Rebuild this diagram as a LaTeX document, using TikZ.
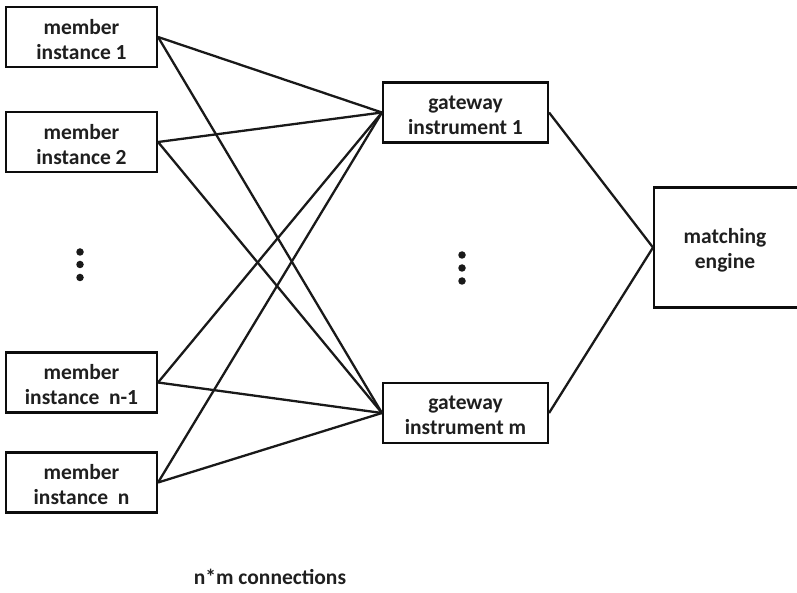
\documentclass[tikz,border=0pt]{standalone}
\usepackage{fontspec}
\setmainfont{Carlito}
\begin{document}
\begin{tikzpicture}[x=1pt,y=-1pt,
  box/.style={draw=black!95,line width=2.1pt,fill=white,inner sep=0pt},
  boxtext/.style={align=center,inner sep=0pt,
    font=\fontsize{21.5}{25}\selectfont\bfseries,text=black!88},
  link/.style={line width=2.3pt,black!90},
  dotmark/.style={circle,fill=black!90,inner sep=0pt,minimum size=7.5pt}]
\useasboundingbox (0,0) rectangle (797,593);
\clip (0,0) rectangle (797,593);
% member instances
\node[box,minimum width=151pt,minimum height=60pt] (m1) at (81.5,37) {};
\node[box,minimum width=151pt,minimum height=60pt] (m2) at (81.5,142) {};
\node[box,minimum width=151pt,minimum height=60pt] (mn1) at (81.5,382.5) {};
\node[box,minimum width=151pt,minimum height=60pt] (mn) at (81.5,482.5) {};
\node[boxtext] (m1t) at ([yshift=-2.5pt]m1.center) {member\\instance 1};
\node[boxtext] (m2t) at ([yshift=-2.5pt]m2.center) {member\\instance 2};
\node[boxtext] (mn1t) at ([yshift=-2.5pt]mn1.center) {member\\instance\ \ n-1};
\node[boxtext] (mnt) at ([yshift=-2.5pt]mn.center) {member\\instance\ \ n};
% gateway instruments
\node[box,minimum width=165pt,minimum height=60pt] (g1) at (465.5,112.5) {};
\node[box,minimum width=165pt,minimum height=60pt] (gm) at (465.5,413) {};
\node[boxtext] (g1t) at ([yshift=-2.5pt]g1.center) {gateway\\instrument 1};
\node[boxtext] (gmt) at ([yshift=-2.5pt]gm.center) {gateway\\instrument m};
% matching engine (runs past the right edge)
\node[box,minimum width=150pt,minimum height=120pt,anchor=west] (me) at (653,247.5) {};
\node[boxtext] (met) at (725,250) {matching\\engine};
% connections
\foreach \m in {m1,m2,mn1,mn}{
  \draw[link] (\m.east) -- (g1.west);
  \draw[link] (\m.east) -- (gm.west);
}
\draw[link] (g1.east) -- (me.west);
\draw[link] (gm.east) -- (me.west);
% ellipsis dots
\node[dotmark] (dl1) at (80,252) {};
\node[dotmark] (dl2) at (80,264.5) {};
\node[dotmark] (dl3) at (80,277.5) {};
\node[dotmark] (dr1) at (462,255) {};
\node[dotmark] (dr2) at (462,268) {};
\node[dotmark] (dr3) at (462,281) {};
% caption
\node[boxtext] (cap) at (270,577) {n*m connections};
\end{tikzpicture}
\end{document}
